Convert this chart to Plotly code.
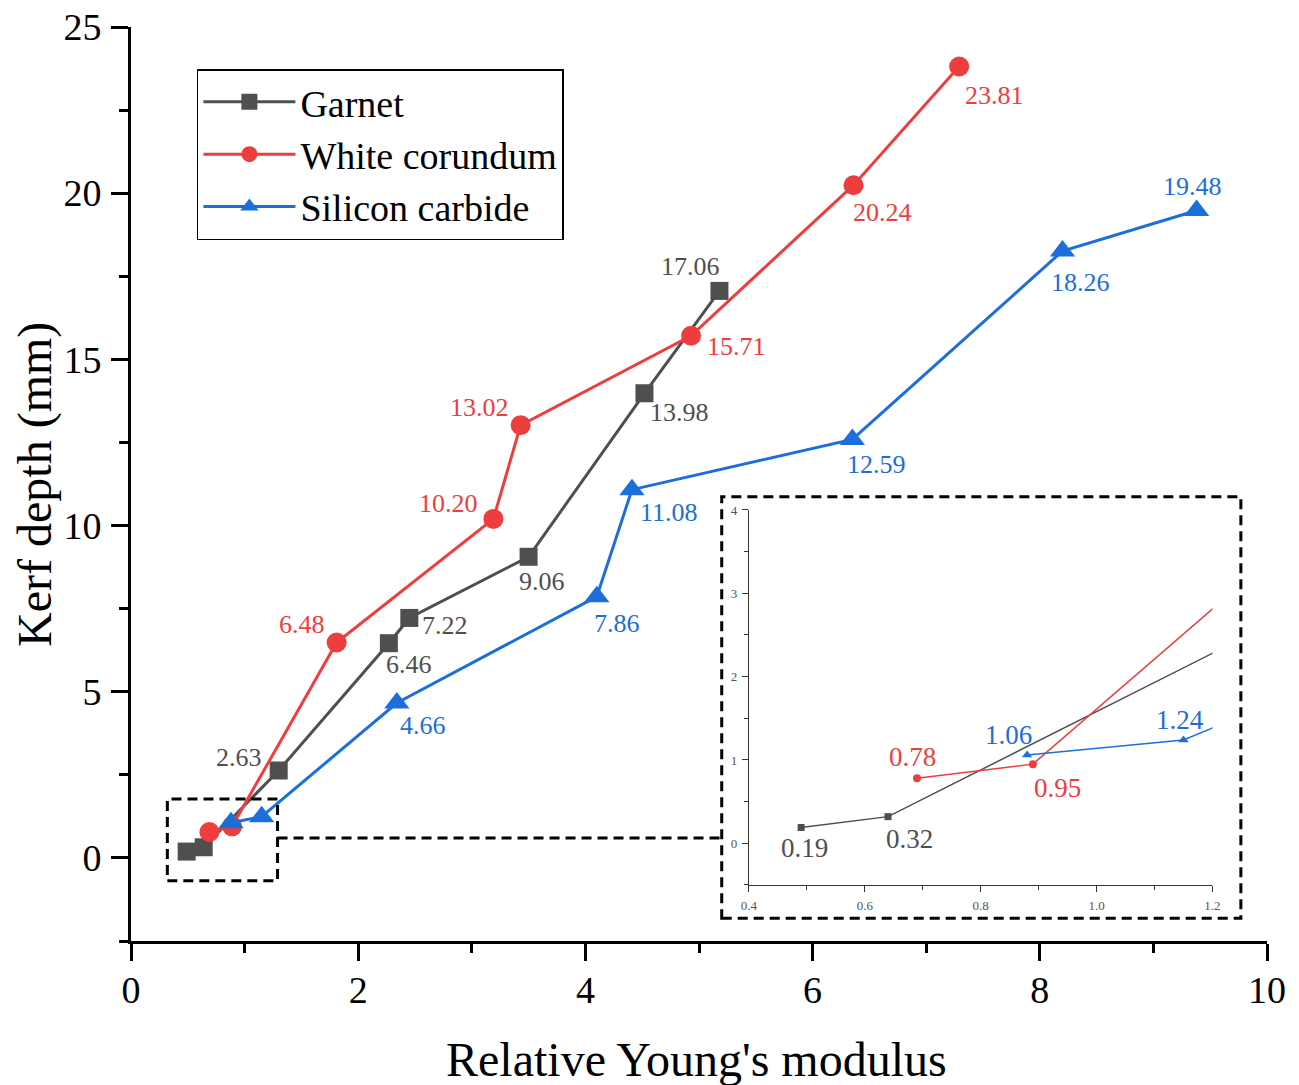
import plotly.graph_objects as go

# ---------------- data ----------------
series_names = ["Garnet", "White corundum", "Silicon carbide"]
x_garnet = [0.49, 0.64, 1.30, 2.27, 2.45, 3.50, 4.52, 5.18]
y_garnet = [0.19, 0.32, 2.63, 6.46, 7.22, 9.06, 13.98, 17.06]
x_white = [0.69, 0.89, 1.81, 3.19, 3.43, 4.93, 6.36, 7.29]
y_white = [0.78, 0.95, 6.48, 10.20, 13.02, 15.71, 20.24, 23.81]
x_sic = [0.88, 1.15, 2.34, 4.10, 4.41, 6.35, 8.20, 9.38]
y_sic = [1.06, 1.24, 4.66, 7.86, 11.08, 12.59, 18.26, 19.48]

x_ticks_main = [0, 2, 4, 6, 8, 10]
y_ticks_main = [0, 5, 10, 15, 20, 25]
x_ticks_inset = [0.4, 0.6, 0.8, 1.0, 1.2]
x_ticklabels_inset = ["0.4", "0.6", "0.8", "1.0", "1.2"]
y_ticks_inset = [0, 1, 2, 3, 4]

# ---------------- styles ----------------
FONT = "Liberation Serif"
colors = ["#4f4f4f", "#ee3d3d", "#1c6edb"]
symbols = ["square", "circle", "triangle-up"]
msizes = [18, 20, 22]
inset_msizes = [7, 8, 9]

# label offsets (px): main labels for points 3..8, inset labels for points 1..2
main_offsets = [
    [(-40, 13), (20, -21), (36, -8), (13, -25), (35, -19), (-29, 24)],
    [(-35, 18), (-45, 15), (-41, 18), (45, -11), (29, -27), (35, -29)],
    [(26, -22), (20, -27), (37, -23), (24, -25), (18, -31), (-4, 24)],
]
inset_offsets = [
    [(3, -21), (21, -22)],
    [(-4, 21), (25, -24)],
    [(-19, 20), (-4, 20)],
]

xs = [x_garnet, x_white, x_sic]
ys = [y_garnet, y_white, y_sic]

fig = go.Figure()

for i in range(3):
    fig.add_trace(go.Scatter(
        x=xs[i], y=ys[i], mode="lines+markers", name=series_names[i],
        line=dict(color=colors[i], width=3),
        marker=dict(symbol=symbols[i], size=msizes[i], color=colors[i]),
        cliponaxis=False, xaxis="x", yaxis="y",
    ))

for i in range(3):
    fig.add_trace(go.Scatter(
        x=xs[i], y=ys[i], mode="lines+markers", showlegend=False,
        line=dict(color=colors[i], width=1.5),
        marker=dict(symbol=symbols[i], size=inset_msizes[i], color=colors[i]),
        xaxis="x2", yaxis="y2",
    ))

annotations = []
for i in range(3):
    for k, (dx, dy) in enumerate(main_offsets[i]):
        j = k + 2
        annotations.append(dict(
            x=xs[i][j], y=ys[i][j], xref="x", yref="y", text=f"{ys[i][j]:.2f}",
            showarrow=False, xshift=dx, yshift=dy,
            font=dict(family=FONT, size=26, color=colors[i]),
        ))
    for j, (dx, dy) in enumerate(inset_offsets[i]):
        annotations.append(dict(
            x=xs[i][j], y=ys[i][j], xref="x2", yref="y2", text=f"{ys[i][j]:.2f}",
            showarrow=False, xshift=dx, yshift=dy,
            font=dict(family=FONT, size=27, color=colors[i]),
        ))

annotations.append(dict(
    x=0.498, y=-0.130, xref="paper", yref="paper", text="Relative Young's modulus",
    showarrow=False, xanchor="center", yanchor="middle",
    font=dict(family=FONT, size=48, color="black"),
))
annotations.append(dict(
    x=-0.0845, y=0.499, xref="paper", yref="paper", text="Kerf depth (mm)",
    showarrow=False, xanchor="center", yanchor="middle", textangle=-90,
    font=dict(family=FONT, size=48, color="black"),
))

shapes = [
    # zoom rectangle in main axes
    dict(type="rect", xref="x", yref="y", x0=0.32, x1=1.29, y0=-0.69, y1=1.77,
         line=dict(color="black", width=3, dash="10px,6px"), fillcolor="rgba(0,0,0,0)"),
    # connector
    dict(type="line", xref="paper", yref="paper", x0=0.129, x1=0.520, y0=0.1127, y1=0.1127,
         line=dict(color="black", width=3, dash="10px,6px")),
    # inset frame
    dict(type="rect", xref="paper", yref="paper", x0=0.520, x1=0.977, y0=0.025, y1=0.486,
         line=dict(color="black", width=3, dash="10px,6px"), fillcolor="rgba(0,0,0,0)"),
]

fig.update_layout(
    width=1291, height=1077,
    margin=dict(l=123, r=32, t=19, b=144, autoexpand=False),
    paper_bgcolor="white", plot_bgcolor="white",
    font=dict(family=FONT, color="black"),
    showlegend=True,
    legend=dict(
        x=0.058, y=0.954, xanchor="left", yanchor="top",
        bgcolor="white", bordercolor="black", borderwidth=1.5,
        font=dict(family=FONT, size=38, color="black"),
        tracegroupgap=0, itemwidth=92,
    ),
    xaxis=dict(
        domain=[0, 1], range=[0, 10], tickvals=x_ticks_main, automargin=False,
        showline=True, linewidth=3, linecolor="black", mirror=False,
        ticks="outside", ticklen=17, tickwidth=2.5, tickcolor="black",
        minor=dict(dtick=1, ticks="outside", ticklen=9, tickwidth=2.5, tickcolor="black"),
        showgrid=False, zeroline=False,
        tickfont=dict(family=FONT, size=38, color="black"),
        ticklabelstandoff=-4, ticklabeloverflow="allow",
    ),
    yaxis=dict(
        domain=[0, 1], range=[-2.5, 25], tickvals=y_ticks_main, automargin=False,
        showline=True, linewidth=3, linecolor="black", mirror=False,
        ticks="outside", ticklen=17, tickwidth=2.5, tickcolor="black",
        minor=dict(dtick=2.5, ticks="outside", ticklen=9, tickwidth=2.5, tickcolor="black"),
        showgrid=False, zeroline=False,
        tickfont=dict(family=FONT, size=38, color="black"),
        ticklabelstandoff=2, ticklabeloverflow="allow",
    ),
    xaxis2=dict(
        domain=[0.544, 0.952], range=[0.4, 1.2], anchor="y2", automargin=False,
        tickvals=x_ticks_inset, ticktext=x_ticklabels_inset,
        showline=True, linewidth=1.2, linecolor="#333333",
        ticks="outside", ticklen=6, tickwidth=1, tickcolor="#333333",
        minor=dict(dtick=0.1, ticks="outside", ticklen=4, tickwidth=1, tickcolor="#333333"),
        showgrid=False, zeroline=False,
        tickfont=dict(family=FONT, size=13, color="#555555"),
        ticklabelstandoff=2,
    ),
    yaxis2=dict(
        domain=[0.0613, 0.4716], range=[-0.5, 4], anchor="x2", automargin=False,
        tickvals=y_ticks_inset,
        showline=True, linewidth=1.2, linecolor="#333333",
        ticks="outside", ticklen=6, tickwidth=1, tickcolor="#333333",
        minor=dict(dtick=0.5, ticks="outside", ticklen=4, tickwidth=1, tickcolor="#333333"),
        showgrid=False, zeroline=False,
        tickfont=dict(family=FONT, size=13, color="#555555"),
        ticklabelstandoff=2,
    ),
    annotations=annotations,
    shapes=shapes,
)

fig.write_html("out.html")
